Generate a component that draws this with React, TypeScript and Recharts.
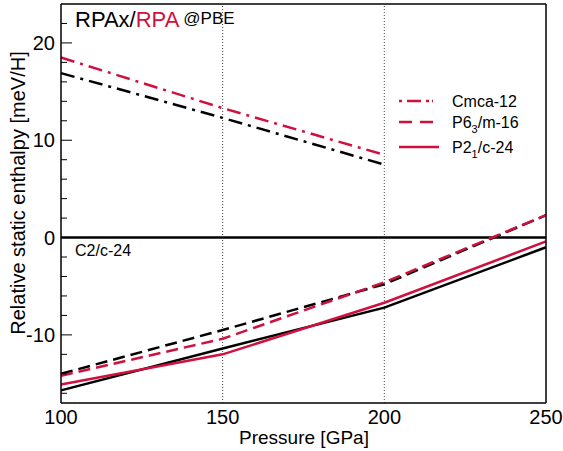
import { LineChart, Line, XAxis, YAxis, ReferenceLine } from 'recharts'

// pressure in GPa, enthalpy relative to C2/c-24 in meV/H
const pressure = [100, 150, 200, 250]

const cmcaRPAx = [16.9, 12.3, 7.5, null]
const cmcaRPA = [18.5, 13.3, 8.5, null]
const p63RPAx = [-14.0, -9.5, -4.8, 2.3]
const p63RPA = [-14.2, -10.4, -4.6, 2.3]
const p21RPAx = [-15.7, -11.4, -7.2, -1.0]
const p21RPA = [-15.1, -12.0, -6.7, -0.4]

const xTicks = [100, 150, 200, 250]
const yTicks = [-16, -14, -12, -10, -8, -6, -4, -2, 0, 2, 4, 6, 8, 10, 12, 14, 16, 18, 20, 22]

const RED = '#d0103f'
const BLACK = '#000'
const DASHDOT = '14 6 3 6'
const DASH = '12 6'
const FONT = '"Liberation Sans", Arial, sans-serif'

const data = pressure.map((p, i) => ({
      p,
      cmcaRPAx: cmcaRPAx[i],
      cmcaRPA: cmcaRPA[i],
      p63RPAx: p63RPAx[i],
      p63RPA: p63RPA[i],
      p21RPAx: p21RPAx[i],
      p21RPA: p21RPA[i]
}))

const LeftTick = ({ x, y, payload }: any) => {
      const major = payload.value % 10 === 0
      return (
            <g>
                  <line x1={x} x2={x + (major ? 11 : 6)} y1={y} y2={y} stroke="#000" strokeWidth={1} />
                  {major && (
                        <text x={x - 6} y={y + 7} textAnchor="end" fontSize={20} fontFamily={FONT} fill="#000">
                              {payload.value}
                        </text>
                  )}
            </g>
      )
}

const RightTick = ({ x, y, payload }: any) => {
      const major = payload.value % 10 === 0
      return <line x1={x} x2={x - (major ? 11 : 6)} y1={y} y2={y} stroke="#000" strokeWidth={1} />
}

const BottomTick = ({ x, y, payload }: any) => (
      <text x={x} y={y + 21} textAnchor="middle" fontSize={20} fontFamily={FONT} fill="#000">
            {payload.value}
      </text>
)

export default function App() {
      return (
            <div style={{ position: 'absolute', left: 0, top: 0, width: 563, height: 451 }}>
                  <LineChart width={563} height={451} data={data} margin={{ top: 4, right: 0, left: 0, bottom: 0 }}>
                        <XAxis
                              dataKey="p"
                              type="number"
                              domain={[100, 250]}
                              ticks={xTicks}
                              height={48}
                              tickSize={0}
                              tickMargin={0}
                              tick={<BottomTick />}
                              axisLine={{ stroke: '#000', strokeWidth: 1.5 }}
                        />
                        <YAxis
                              yAxisId="l"
                              type="number"
                              domain={[-17, 24]}
                              ticks={yTicks}
                              width={61}
                              tickSize={0}
                              tickMargin={0}
                              tick={<LeftTick />}
                              axisLine={{ stroke: '#000', strokeWidth: 1.5 }}
                              interval={0}
                        />
                        <YAxis
                              yAxisId="r"
                              orientation="right"
                              type="number"
                              domain={[-17, 24]}
                              ticks={yTicks}
                              width={17}
                              tickSize={0}
                              tickMargin={0}
                              tick={<RightTick />}
                              axisLine={{ stroke: '#000', strokeWidth: 1.5 }}
                              interval={0}
                        />
                        <ReferenceLine yAxisId="l" x={150} stroke="#444" strokeDasharray="1 2" strokeWidth={1} />
                        <ReferenceLine yAxisId="l" x={200} stroke="#444" strokeDasharray="1 2" strokeWidth={1} />
                        <ReferenceLine yAxisId="l" y={24} stroke="#000" strokeWidth={1.5} />
                        <ReferenceLine yAxisId="l" y={0} stroke="#000" strokeWidth={2.5} />

                        <Line yAxisId="l" dataKey="cmcaRPAx" stroke={BLACK} strokeWidth={2.5} strokeDasharray={DASHDOT} dot={false} isAnimationActive={false} />
                        <Line yAxisId="l" dataKey="cmcaRPA" stroke={RED} strokeWidth={2.5} strokeDasharray={DASHDOT} dot={false} isAnimationActive={false} />
                        <Line yAxisId="l" dataKey="p63RPAx" stroke={BLACK} strokeWidth={2.5} strokeDasharray={DASH} dot={false} isAnimationActive={false} />
                        <Line yAxisId="l" dataKey="p63RPA" stroke={RED} strokeWidth={2.5} strokeDasharray={DASH} dot={false} isAnimationActive={false} />
                        <Line yAxisId="l" dataKey="p21RPAx" stroke={BLACK} strokeWidth={2.5} dot={false} isAnimationActive={false} />
                        <Line yAxisId="l" dataKey="p21RPA" stroke={RED} strokeWidth={2.5} dot={false} isAnimationActive={false} />
                  </LineChart>

                  <svg width={563} height={451} style={{ position: 'absolute', left: 0, top: 0, pointerEvents: 'none' }} fontFamily={FONT}>
                        <text x={75} y={27} fontSize={22} fill="#000">
                              RPAx/<tspan fill={RED}>RPA</tspan>
                              <tspan dx={4} dy={-3} fontSize={17}>@PBE</tspan>
                        </text>
                        <text x={75} y={256} fontSize={16} fill="#000">C2/c-24</text>

                        {/* legend */}
                        <line x1={399} x2={433} y1={101} y2={101} stroke={RED} strokeWidth={2.5} strokeDasharray="3 5 14 5 3" />
                        <text x={452} y={107} fontSize={16} fill="#000">Cmca-12</text>
                        <line x1={399} x2={433} y1={122} y2={122} stroke={RED} strokeWidth={2.5} strokeDasharray="13 8" />
                        <text x={452} y={128} fontSize={16} fill="#000">
                              P6<tspan dy={5} fontSize={11}>3</tspan><tspan dy={-5}>/m-16</tspan>
                        </text>
                        <line x1={399} x2={439} y1={147} y2={147} stroke={RED} strokeWidth={2.5} />
                        <text x={452} y={153} fontSize={16} fill="#000">
                              P2<tspan dy={5} fontSize={11}>1</tspan><tspan dy={-5}>/c-24</tspan>
                        </text>

                        <text x={304} y={444} fontSize={19} textAnchor="middle" fill="#000">Pressure [GPa]</text>
                        <text x={0} y={0} fontSize={20} textAnchor="middle" fill="#000" transform="translate(25,193) rotate(-90)">
                              Relative static enthalpy [meV/H]
                        </text>
                  </svg>
            </div>
      )
}
